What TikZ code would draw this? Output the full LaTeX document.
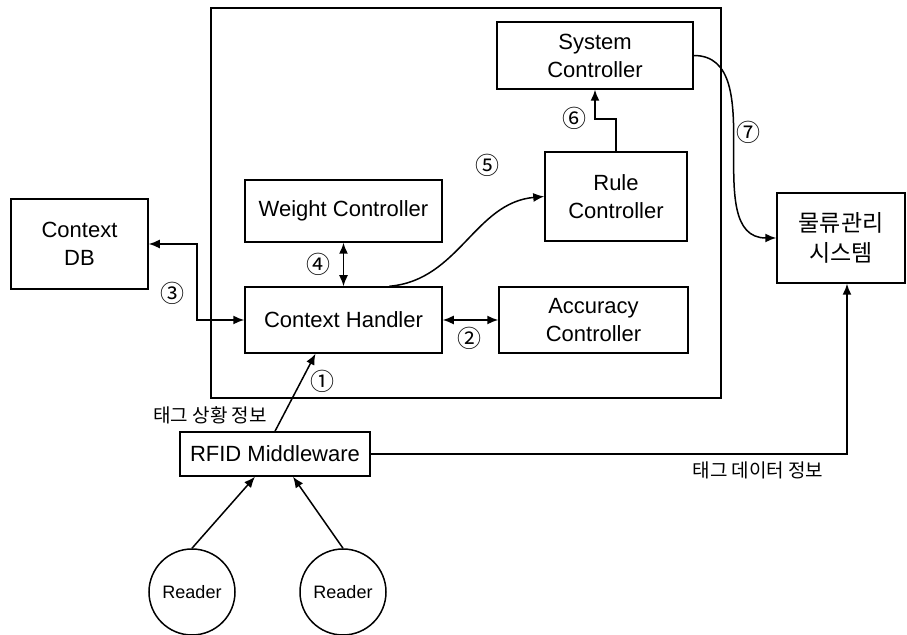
\documentclass[tikz,border=0pt]{standalone}
\usepackage{fontspec}
\setmainfont{Liberation Sans}
\newfontfamily\kr{Noto Sans CJK KR}
\usetikzlibrary{arrows.meta,positioning,calc}

\begin{document}
\begin{tikzpicture}[x=0.5pt, y=-0.5pt, line width=0.75pt, >={Latex[length=5.5pt,width=4.5pt]}]
    % Define node styles
    \tikzstyle{module}=[rectangle, draw, align=center, inner sep=1pt, font=\fontsize{11}{14}\selectfont]
    \tikzstyle{reader}=[circle, draw, minimum size=43pt, inner sep=0pt, font=\fontsize{9}{11}\selectfont]
    \tikzstyle{num}=[inner sep=0pt, font=\kr\fontsize{12}{13}\selectfont]
    \tikzstyle{info}=[inner sep=0pt, font=\kr\fontsize{9.5}{11}\selectfont]

    \useasboundingbox (0,0) rectangle (907,635);

    % Middleware frame
    \node[draw, minimum width=255pt, minimum height=195pt] (frame) at (466,203) {};

    % Modules inside the frame
    \node[module, minimum width=98pt, minimum height=33.5pt] (syscon) at (595,55.5) {System\\Controller};
    \node[module, minimum width=71pt, minimum height=44.5pt] (rule) at (616,196.5) {Rule\\Controller};
    \node[module, minimum width=98.5pt, minimum height=31pt] (weight) at (343.5,211) {Weight Controller};
    \node[module, minimum width=98.5pt, minimum height=33pt] (handler) at (343.5,320) {Context Handler};
    \node[module, minimum width=94.5pt, minimum height=33pt] (accuracy) at (593.5,320) {Accuracy\\Controller};

    % Outside modules
    \node[module, minimum width=68.5pt, minimum height=45pt] (ctxdb) at (79.5,244) {Context\\DB};
    \node[module, minimum width=64pt, minimum height=45pt, font=\kr\fontsize{11.5}{15}\selectfont] (logis) at (841,238) {물류관리\\시스템};
    \node[module, minimum width=95pt, minimum height=22pt] (rfid) at (275,454) {RFID Middleware};

    % Readers
    \node[reader] (reader1) at (192,592) {Reader};
    \node[reader] (reader2) at (343,592) {Reader};

    % Connectors
    \draw[->] (reader1.north) -- ([xshift=-10pt]rfid.south);
    \draw[->] (reader2.north) -- ([xshift=9pt]rfid.south);
    \draw[->] (rfid.north) -- ([xshift=-14pt]handler.south);
    \draw[->] (rfid.east) -| ([xshift=3pt]logis.south);
    \draw[<->] (ctxdb.east) -- ++(48,0) |- (handler.west);
    \draw[<->] (weight.south) -- (handler.north);
    \draw[<->] (handler.east) -- (accuracy.west);
    \draw[->] ([xshift=23pt]handler.north) to[out=5, in=185] (rule.west);
    \draw[->] (rule.north) -- ++(0,-32) -| (syscon.south);
    \draw[->] (syscon.east) to[out=0, in=180] (logis.west);

    % Labels
    \node[num] (n1) at (322,381) {①};
    \node[num] (n2) at (469,338) {②};
    \node[num] (n3) at (172,293) {③};
    \node[num] (n4) at (318,264) {④};
    \node[num] (n5) at (487,165) {⑤};
    \node[num] (n6) at (574,118) {⑥};
    \node[num] (n7) at (748,132) {⑦};
    \node[info] (tagstate) at (210,415) {태그 상황 정보};
    \node[info] (tagdata) at (758,470) {태그 데이터 정보};
\end{tikzpicture}
\end{document}
